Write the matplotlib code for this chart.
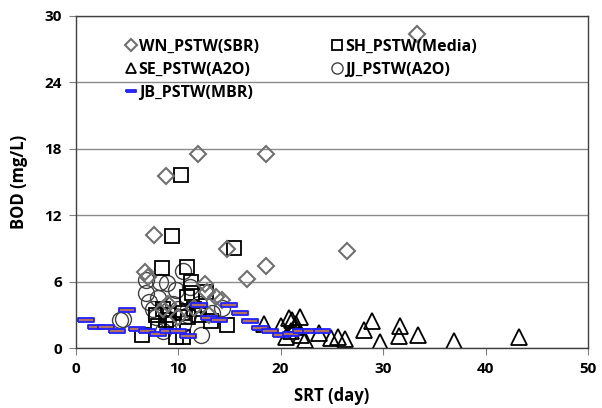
import matplotlib
matplotlib.use("Agg")
import matplotlib.pyplot as plt

plt.rcParams['font.family'] = ['Open Sans', 'DejaVu Sans']

# ---- data ----
wn_x = [33.3, 11.9, 18.6, 8.8, 7.6, 14.8, 26.5, 18.6, 16.7, 6.8, 7.1, 12.6, 12.8, 13.7, 14.3, 11.5, 8.5, 9.0, 13.0, 10.0]
wn_y = [28.4, 17.5, 17.5, 15.5, 10.2, 8.9, 8.8, 7.4, 6.2, 6.9, 6.4, 5.8, 5.1, 4.6, 4.3, 3.6, 3.5, 4.0, 3.0, 2.8]

sh_x = [10.3, 9.4, 15.5, 8.4, 10.9, 11.3, 11.4, 12.7, 10.9, 8.5, 9.0, 8.8, 9.5, 10.5, 11.0, 12.0, 13.2, 14.8, 6.5, 9.8, 10.5, 7.8, 8.0, 11.5]
sh_y = [15.6, 10.1, 9.0, 7.2, 7.3, 6.0, 5.0, 5.1, 4.6, 3.5, 3.0, 2.5, 2.2, 3.2, 2.8, 3.0, 2.4, 2.1, 1.2, 1.0, 1.0, 3.0, 2.0, 3.5]

se_x = [18.4, 20.0, 20.8, 21.1, 21.9, 21.4, 22.4, 23.7, 24.9, 25.6, 26.3, 28.1, 28.9, 29.7, 31.6, 31.7, 33.4, 36.9, 43.3, 21.0, 22.0, 21.5, 20.5]
se_y = [2.2, 2.0, 2.7, 2.5, 2.8, 1.9, 0.7, 1.4, 0.9, 1.0, 0.8, 1.6, 2.4, 0.5, 1.1, 2.0, 1.2, 0.6, 1.0, 1.5, 1.2, 2.2, 1.0]

jj_x = [10.5, 6.9, 6.9, 8.2, 8.9, 4.3, 4.6, 12.2, 13.3, 14.3, 7.2, 7.5, 8.0, 9.5, 10.0, 11.0, 9.0, 7.8, 12.0, 10.5, 8.5, 11.2, 9.8]
jj_y = [7.0, 6.1, 5.0, 6.0, 5.9, 2.5, 2.6, 1.2, 3.2, 3.6, 4.2, 3.5, 4.5, 4.0, 3.5, 3.0, 2.5, 2.8, 4.0, 2.2, 1.5, 5.5, 5.2]

jb_x = [1, 2, 3, 4, 5, 6, 7, 8, 9, 10, 11, 12, 13, 14, 15, 16, 17, 18, 19, 20, 21, 22, 23, 24]
jb_y = [2.5, 1.9, 1.9, 1.5, 3.4, 1.7, 1.5, 1.3, 1.5, 1.5, 1.1, 3.9, 2.7, 2.5, 3.9, 3.2, 2.4, 1.8, 1.5, 1.2, 1.3, 1.5, 1.5, 1.5]

labels = ['WN_PSTW(SBR)', 'SH_PSTW(Media)', 'SE_PSTW(A2O)', 'JJ_PSTW(A2O)', 'JB_PSTW(MBR)']
x_ticks = [0, 10, 20, 30, 40, 50]
y_ticks = [0, 6, 12, 18, 24, 30]

# ---- figure ----
fig = plt.figure(figsize=(6.02, 4.08), dpi=100)
ax = fig.add_axes([0.1257, 0.147, 0.851, 0.814])

dash = [(-1, -0.28), (1, -0.28), (1, 0.28), (-1, 0.28), (-1, -0.28)]

ax.plot(se_x, se_y, linestyle='none', marker='^', ms=11, mfc='none', mec='black', mew=1.3, label=labels[2])
ax.plot(jj_x, jj_y, linestyle='none', marker='o', ms=11.5, mfc='none', mec='#404040', mew=1.0, label=labels[3])
ax.plot(sh_x, sh_y, linestyle='none', marker='s', ms=10, mfc='none', mec='black', mew=1.3, label=labels[1])
ax.plot(wn_x, wn_y, linestyle='none', marker='D', ms=8.5, mfc='none', mec='#707070', mew=1.5, label=labels[0])
ax.plot(jb_x, jb_y, linestyle='none', marker=dash, ms=11, mfc='#b07060', mec='#2020ff', mew=1.3, label=labels[4])

ax.set_xlim(0, 50)
ax.set_ylim(0, 30)
ax.set_xticks(x_ticks)
ax.set_yticks(y_ticks)
ax.grid(axis='y', color='#8c8c8c', linewidth=1.0)
ax.set_axisbelow(True)
for s in ax.spines.values():
    s.set_color('#404040')
    s.set_linewidth(1.0)
ax.tick_params(direction='out', length=5, color='#808080', labelsize=11, pad=5)
for lab in ax.get_xticklabels() + ax.get_yticklabels():
    lab.set_fontweight('bold')

ax.set_xlabel('SRT (day)', fontsize=12, fontweight='bold', labelpad=8)
ax.set_ylabel('BOD (mg/L)', fontsize=12, fontweight='bold', labelpad=12)

h, l = ax.get_legend_handles_labels()
order = [l.index(labels[0]), l.index(labels[2]), l.index(labels[4]), l.index(labels[1]), l.index(labels[3])]
leg = ax.legend([h[i] for i in order], [l[i] for i in order], ncol=2, frameon=False,
                loc='upper left', bbox_to_anchor=(0.07, 0.975), handlelength=0.6, handletextpad=0.2,
                columnspacing=4.6, labelspacing=0.45, markerscale=0.7,
                prop={'weight': 'bold', 'size': 11.5})

fig.savefig('out.png', dpi=100)
